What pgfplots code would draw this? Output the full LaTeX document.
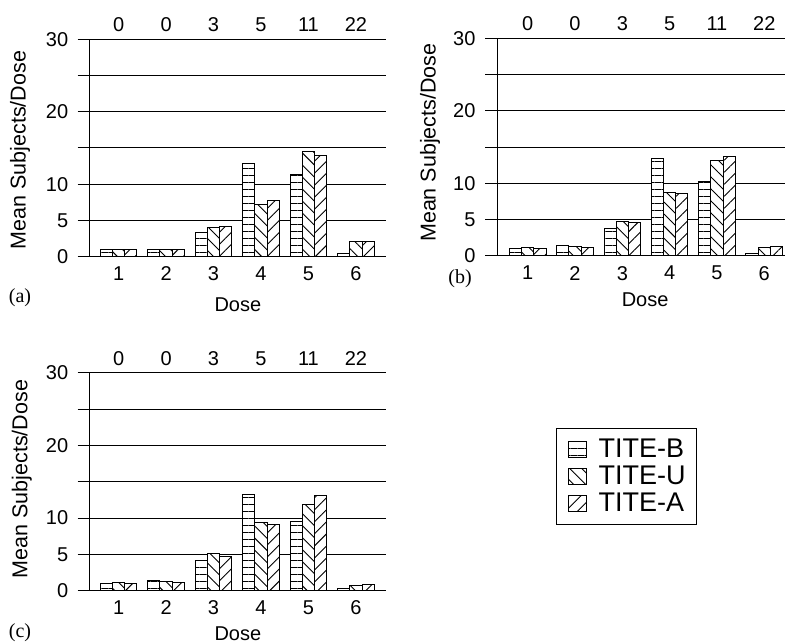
\documentclass[border=0pt]{standalone}
\usepackage{pgfplots}
\pgfplotsset{compat=1.18}
\usetikzlibrary{patterns.meta}
\usepackage{fontspec}
\setmainfont{Liberation Sans}
\newfontfamily\seriffont{Liberation Serif}

\pgfplotstableread{
dose B U A
1 1.0 1.0 1.0
2 1.0 1.0 1.0
3 3.3 4.05 4.2
4 12.8 7.15 7.7
5 11.3 14.5 14.0
6 0.4 2.05 2.05
}\tablea
\pgfplotstableread{
dose B U A
1 1.1 1.15 1.1
2 1.4 1.3 1.15
3 3.85 4.75 4.55
4 13.4 8.75 8.65
5 10.2 13.15 13.7
6 0.3 1.2 1.3
}\tableb
\pgfplotstableread{
dose B U A
1 1.05 1.1 0.95
2 1.4 1.3 1.1
3 4.15 5.15 4.65
4 13.3 9.4 9.05
5 9.5 11.85 13.15
6 0.25 0.7 0.8
}\tablec

\newcommand{\bigfont}{\fontsize{20}{24}\selectfont}
\newcommand{\labfont}{\fontsize{21.5}{25}\selectfont}

\pgfplotsset{
  panel/.style={
    scale only axis, clip=false,
    font=\bigfont,
    ybar=0pt, bar width=12.2pt,
    ymin=0, ymax=30,
    ytick={0,5,10,15,20,25,30},
    yticklabels={0,5,10,,20,,30},
    xtick={1,2,3,4,5,6},
    xticklabels={1,2,3,4,5,6},
    axis x line*=bottom, axis y line*=left,
    axis line style={-, black, line width=1pt},
    tick align=outside,
    major tick length=12.3pt,
    xtick style={draw=none},
    ytick style={black, line width=1pt},
    ymajorgrids,
    grid style={black, line width=1pt},
    /pgf/number format/assume math mode=true,
    tick label style={font=\bigfont},
    xlabel style={font=\bigfont},
    ylabel style={font=\labfont},
    xticklabel style={yshift=5.7pt},
    yticklabel style={xshift=-6pt},
    xlabel={Dose},
    ylabel={Mean Subjects/Dose},
    xlabel style={at={(axis description cs:0.5,0)}, anchor=center, yshift=-48pt},
    ylabel style={at={(axis description cs:0,0.5)}, anchor=center},
  },
  barB/.style={draw=black, line width=1pt, fill=white, postaction={pattern={Lines[angle=0, distance=7pt, line width=0.9pt]}}},
  barU/.style={draw=black, line width=1pt, fill=white, postaction={pattern={Lines[angle=-45, distance=8.5pt, line width=0.9pt]}}},
  barA/.style={draw=black, line width=1pt, fill=white, postaction={pattern={Lines[angle=45, distance=8.5pt, line width=0.9pt]}}},
  sq legend/.style={legend image code/.code={\path[draw=none, fill=none] (0pt,0pt) (30pt,0pt); \draw[##1] (6pt,-8pt) rectangle (24pt,8pt);}},
}

\begin{document}
\begin{tikzpicture}[font=\bigfont]
\useasboundingbox (0pt,0pt) rectangle (785pt,644pt);

% panel (a)
\begin{axis}[panel, at={(90pt,387.3pt)}, anchor=south west,
  width=295.7pt, height=217.4pt, xmin=0.397, xmax=6.627,
  ylabel style={yshift=70pt, xshift=-2pt}]
\addplot[barB] table[x=dose, y=B] {\tablea};
\addplot[barU] table[x=dose, y=U] {\tablea};
\addplot[barA] table[x=dose, y=A] {\tablea};
\node[font=\bigfont, yshift=14.3pt] at (axis cs:1,30) {0};
\node[font=\bigfont, yshift=14.3pt] at (axis cs:2,30) {0};
\node[font=\bigfont, yshift=14.3pt] at (axis cs:3,30) {3};
\node[font=\bigfont, yshift=14.3pt] at (axis cs:4,30) {5};
\node[font=\bigfont, yshift=14.3pt] at (axis cs:5,30) {11};
\node[font=\bigfont, yshift=14.3pt] at (axis cs:6,30) {22};
\end{axis}

% panel (b)
\begin{axis}[panel, at={(497.3pt,388pt)}, anchor=south west,
  width=287.7pt, height=217.7pt, xmin=0.357, xmax=6.438,
  xlabel style={xshift=4pt, yshift=4pt},
  ylabel style={yshift=67.3pt, xshift=4.5pt}]
\addplot[barB] table[x=dose, y=B] {\tableb};
\addplot[barU] table[x=dose, y=U] {\tableb};
\addplot[barA] table[x=dose, y=A] {\tableb};
\node[font=\bigfont, yshift=14.3pt] at (axis cs:1,30) {0};
\node[font=\bigfont, yshift=14.3pt] at (axis cs:2,30) {0};
\node[font=\bigfont, yshift=14.3pt] at (axis cs:3,30) {3};
\node[font=\bigfont, yshift=14.3pt] at (axis cs:4,30) {5};
\node[font=\bigfont, yshift=14.3pt] at (axis cs:5,30) {11};
\node[font=\bigfont, yshift=14.3pt] at (axis cs:6,30) {22};
\end{axis}

% panel (c)
\begin{axis}[panel, at={(90pt,53.3pt)}, anchor=south west,
  width=295.7pt, height=218pt, xmin=0.397, xmax=6.627,
  xlabel style={yshift=5.4pt},
  ylabel style={yshift=68.3pt, xshift=2.7pt},
  legend style={at={(axis description cs:1.576,0.748)}, anchor=north west,
    draw=black, line width=1pt, font=\fontsize{27}{30}\selectfont,
    inner xsep=5pt, inner ysep=7.5pt,
    nodes={inner xsep=6pt, inner ysep=3.5pt},
    cells={anchor=west}},
  legend cell align=left]
\addplot[barB, sq legend] table[x=dose, y=B] {\tablec};
\addplot[barU, sq legend] table[x=dose, y=U] {\tablec};
\addplot[barA, sq legend] table[x=dose, y=A] {\tablec};
\legend{TITE-B, TITE-U, TITE-A}
\node[font=\bigfont, yshift=14.3pt] at (axis cs:1,30) {0};
\node[font=\bigfont, yshift=14.3pt] at (axis cs:2,30) {0};
\node[font=\bigfont, yshift=14.3pt] at (axis cs:3,30) {3};
\node[font=\bigfont, yshift=14.3pt] at (axis cs:4,30) {5};
\node[font=\bigfont, yshift=14.3pt] at (axis cs:5,30) {11};
\node[font=\bigfont, yshift=14.3pt] at (axis cs:6,30) {22};
\end{axis}

\node[font=\seriffont\bigfont] at (20pt,346.5pt) {(a)};
\node[font=\seriffont\bigfont] at (460pt,365pt) {(b)};
\node[font=\seriffont\bigfont] at (20pt,11.5pt) {(c)};
\end{tikzpicture}
\end{document}
